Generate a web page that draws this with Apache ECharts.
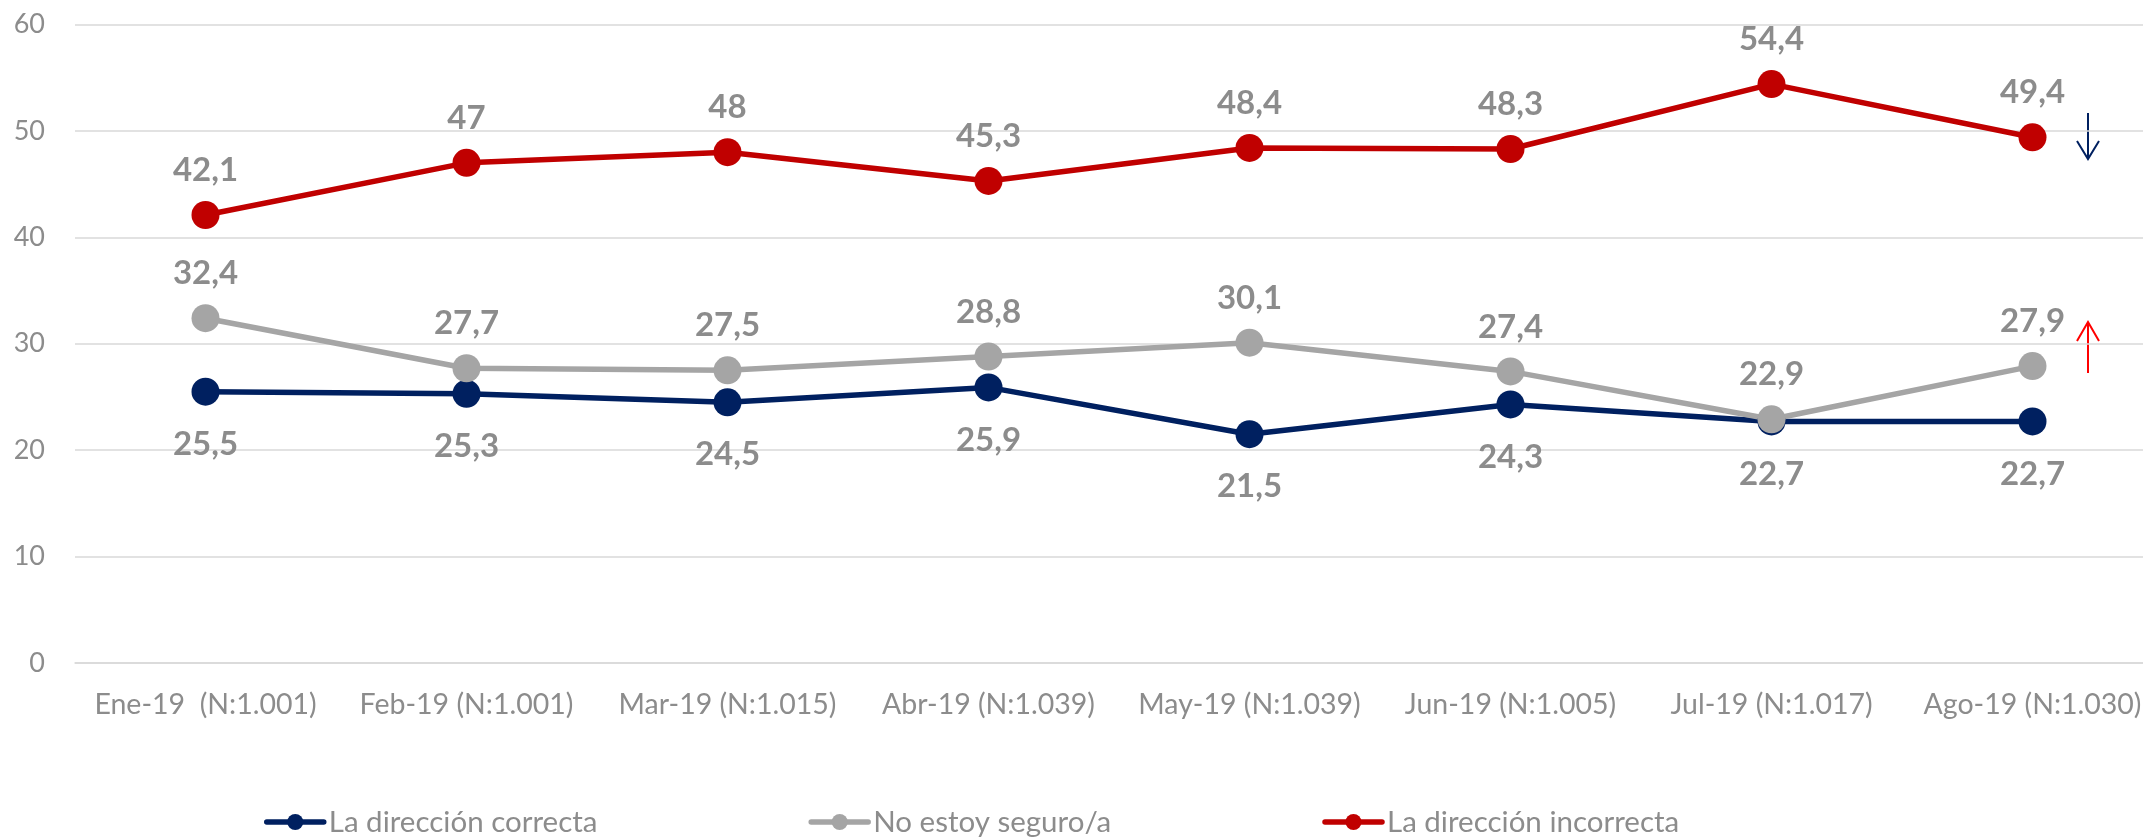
<!DOCTYPE html>
<html>
<head>
<meta charset="utf-8">
<script src="https://cdn.jsdelivr.net/npm/echarts@6/dist/echarts.min.js"></script>
<style>
  html, body { margin: 0; padding: 0; background: #fff; }
  #main { width: 2143px; height: 837px; }
</style>
</head>
<body>
<div id="main"></div>
<script>
// meses con tamaño de muestra
var categories = ['Ene-19  (N:1.001)', 'Feb-19 (N:1.001)', 'Mar-19 (N:1.015)', 'Abr-19 (N:1.039)',
  'May-19 (N:1.039)', 'Jun-19 (N:1.005)', 'Jul-19 (N:1.017)', 'Ago-19 (N:1.030)'];
var correcta = [25.5, 25.3, 24.5, 25.9, 21.5, 24.3, 22.7, 22.7];
var noSeguro = [32.4, 27.7, 27.5, 28.8, 30.1, 27.4, 22.9, 27.9];
var incorrecta = [42.1, 47, 48, 45.3, 48.4, 48.3, 54.4, 49.4];

var fontFam = 'Lato, "Open Sans", sans-serif';
var labelGray = '#8c8c8c';

function serie(name, data, color, pos, dist) {
  return {
    name: name,
    type: 'line',
    data: data,
    symbol: 'circle',
    symbolSize: 28,
    lineStyle: { color: color, width: 5.5, cap: 'round' },
    itemStyle: { color: color },
    label: {
      show: true,
      position: pos,
      distance: dist,
      color: labelGray,
      fontFamily: fontFam,
      fontWeight: 'bold',
      fontSize: 33,
      formatter: function (p) { return String(p.value).replace('.', ','); }
    },
    emphasis: { disabled: true }
  };
}

var myChart = echarts.init(document.getElementById('main'));
myChart.setOption({
  animation: false,
  grid: { left: 75, width: 2088, top: 24.5, bottom: 174, outerBoundsMode: 'none', containLabel: false },
  legend: {
    left: 259,
    top: 802,
    itemWidth: 57,
    itemHeight: 20,
    itemGap: 211,
    lineStyle: { width: 5.5, cap: 'round' },
    textStyle: { color: labelGray, fontFamily: fontFam, fontSize: 29.5 },
    data: ['La dirección correcta', 'No estoy seguro/a', 'La dirección incorrecta']
  },
  xAxis: {
    type: 'category',
    data: categories,
    axisTick: { show: false },
    axisLine: { lineStyle: { color: '#d9d9d9', width: 1.5 } },
    axisLabel: { color: labelGray, fontFamily: fontFam, fontSize: 28.5, margin: 27, interval: 0 }
  },
  yAxis: {
    type: 'value',
    min: 0,
    max: 60,
    interval: 10,
    axisLine: { show: false },
    axisTick: { show: false },
    splitLine: { lineStyle: { color: '#d9d9d9', width: 1.5 } },
    axisLabel: { color: labelGray, fontFamily: fontFam, fontSize: 27, margin: 30 }
  },
  series: [
    serie('La dirección correcta', correcta, '#002060', 'bottom', 22),
    serie('No estoy seguro/a', noSeguro, '#a5a5a5', 'top', 14),
    serie('La dirección incorrecta', incorrecta, '#c00000', 'top', 14)
  ],
  // flechas de tendencia
  graphic: [
    { type: 'polyline', shape: { points: [[2088, 113], [2088, 159]] }, style: { stroke: '#002060', lineWidth: 2, fill: null } },
    { type: 'polyline', shape: { points: [[2077, 141], [2088, 159], [2099, 141]] }, style: { stroke: '#002060', lineWidth: 2, fill: null } },
    { type: 'polyline', shape: { points: [[2088, 373], [2088, 322]] }, style: { stroke: '#ff0000', lineWidth: 2, fill: null } },
    { type: 'polyline', shape: { points: [[2077, 341], [2088, 322], [2099, 341]] }, style: { stroke: '#ff0000', lineWidth: 2, fill: null } }
  ]
});

window.addEventListener('resize', function () {
  myChart.resize();
});
</script>
</body>
</html>
